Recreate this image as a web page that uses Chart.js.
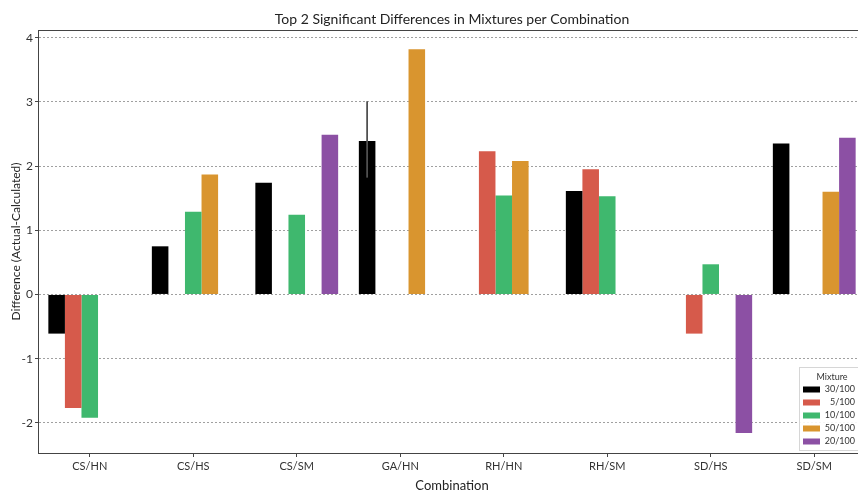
<!DOCTYPE html>
<html>
<head>
<meta charset="utf-8">
<script src="https://cdn.jsdelivr.net/npm/chart.js@4/dist/chart.umd.min.js"></script>
<style>
  html, body { margin: 0; padding: 0; background: #fff; overflow: hidden; }
  #wrap { width: 872px; height: 492px; }
</style>
</head>
<body>
<div id="wrap"><canvas id="c" width="872" height="492"></canvas></div>
<script>
// Combinations along the x axis
const combos = ['CS/HN', 'CS/HS', 'CS/SM', 'GA/HN', 'RH/HN', 'RH/SM', 'SD/HS', 'SD/SM'];

// Difference (actual - calculated) per mixture; null = not among the top 2
const mix30 = [-0.61, 0.75, 1.74, 2.39, null, 1.61, null, 2.35];
const mix5  = [-1.77, null, null, null, 2.23, 1.95, -0.61, null];
const mix10 = [-1.92, 1.29, 1.24, null, 1.54, 1.53, 0.47, null];
const mix50 = [null, 1.87, null, 3.82, 2.08, null, null, 1.60];
const mix20 = [null, null, 2.49, null, null, null, -2.16, 2.44];

// Spread of the 30/100 estimate (only GA/HN has more than one value)
const mix30Low  = [null, null, null, 1.82, null, null, null, null];
const mix30High = [null, null, null, 3.01, null, null, null, null];

const yTicks = [-2, -1, 0, 1, 2, 3, 4];

const mixtureLabels = ['30/100', '5/100', '10/100', '50/100', '20/100'];
const mixtureColors = ['#000000', '#d65a4b', '#3fb86e', '#d9952f', '#8c50a4'];

const chartTitle = 'Top 2 Significant Differences in Mixtures per Combination';

const FONT = 'Lato, "Noto Sans", sans-serif';
const TXT = '#333333';

const series = [mix30, mix5, mix10, mix50, mix20];

// Error bars drawn over the bars through the value scale
const errorBars = {
  id: 'errorBars',
  afterDatasetsDraw(chart) {
    const meta = chart.getDatasetMeta(0);
    const y = chart.scales.y;
    const ctx = chart.ctx;
    ctx.save();
    ctx.strokeStyle = '#505050';
    ctx.lineWidth = 1.8;
    mix30Low.forEach((lo, i) => {
      if (lo == null) return;
      const x = meta.data[i].x;
      ctx.beginPath();
      ctx.moveTo(x, y.getPixelForValue(lo));
      ctx.lineTo(x, y.getPixelForValue(mix30High[i]));
      ctx.stroke();
    });
    ctx.restore();
  }
};

// Full frame around the plotting area plus the title centred over it
const frame = {
  id: 'frame',
  afterDatasetsDraw(chart) {
    const a = chart.chartArea, ctx = chart.ctx;
    ctx.save();
    ctx.strokeStyle = '#444444';
    ctx.lineWidth = 1;
    ctx.strokeRect(Math.round(a.left) + 0.5, Math.round(a.top) + 0.5,
                   Math.round(a.right - a.left), Math.round(a.bottom - a.top));
    ctx.fillStyle = '#222222';
    ctx.font = '14px ' + FONT;
    ctx.textAlign = 'center';
    ctx.textBaseline = 'middle';
    ctx.fillText(chartTitle, (a.left + a.right) / 2, 19);
    ctx.restore();
  }
};

// Legend box in the lower right corner of the plot
const mixtureLegend = {
  id: 'mixtureLegend',
  afterDraw(chart) {
    const ctx = chart.ctx;
    const x0 = 799, y0 = 367, w = 62, h = 83;
    ctx.save();
    ctx.fillStyle = 'rgba(255,255,255,0.9)';
    ctx.strokeStyle = '#d6d6d6';
    ctx.lineWidth = 1;
    ctx.fillRect(x0, y0, w, h);
    ctx.strokeRect(x0 + 0.5, y0 + 0.5, w, h);
    ctx.fillStyle = TXT;
    ctx.font = '9px ' + FONT;
    ctx.textAlign = 'center';
    ctx.textBaseline = 'middle';
    ctx.fillText('Mixture', 832, 377);
    chart.data.datasets.forEach((ds, i) => {
      const cy = 389.5 + i * 13;
      ctx.fillStyle = ds.backgroundColor;
      ctx.fillRect(803, cy - 3, 17, 6);
      ctx.fillStyle = TXT;
      ctx.textAlign = 'right';
      ctx.fillText(ds.label, 855, cy);
    });
    ctx.restore();
  }
};

new Chart(document.getElementById('c'), {
  type: 'bar',
  data: {
    labels: combos,
    datasets: series.map((vals, i) => ({
      label: mixtureLabels[i],
      data: vals,
      backgroundColor: mixtureColors[i],
      borderWidth: 0,
      categoryPercentage: 0.8,
      barPercentage: 1.0
    }))
  },
  options: {
    responsive: false,
    animation: false,
    devicePixelRatio: 1,
    layout: { padding: { left: 0, right: 6, top: 30, bottom: 0 } },
    plugins: {
      legend: { display: false },
      tooltip: { enabled: false },
      title: { display: false }
    },
    scales: {
      x: {
        grid: {
          offset: false, drawOnChartArea: false, drawTicks: true,
          tickLength: 4, color: 'rgba(0,0,0,0)', tickColor: '#444444'
        },
        border: { display: true, color: '#444444' },
        ticks: { color: TXT, font: { family: FONT, size: 11 }, padding: 3, maxRotation: 0 },
        title: {
          display: true, text: 'Combination', color: '#222222',
          font: { family: FONT, size: 13 }, padding: { top: 6, bottom: -2 }
        },
        afterFit(scale) { scale.height = 39; }
      },
      y: {
        min: -2.47,
        max: 4.12,
        afterBuildTicks(scale) { scale.ticks = yTicks.map(v => ({ value: v })); },
        grid: {
          color: '#a0a0a0', lineWidth: 1,
          drawTicks: true, tickLength: 3, tickColor: '#444444', tickBorderDash: []
        },
        border: { display: true, color: '#444444', dash: [2, 2] },
        ticks: { color: TXT, font: { family: FONT, size: 12 }, padding: 2 },
        title: {
          display: true, text: 'Difference (Actual-Calculated)', color: '#222222',
          font: { family: FONT, size: 12 }, padding: { top: 9, bottom: 0 }
        },
        afterFit(scale) { scale.width = 38; }
      }
    }
  },
  plugins: [errorBars, frame, mixtureLegend]
});
</script>
</body>
</html>
